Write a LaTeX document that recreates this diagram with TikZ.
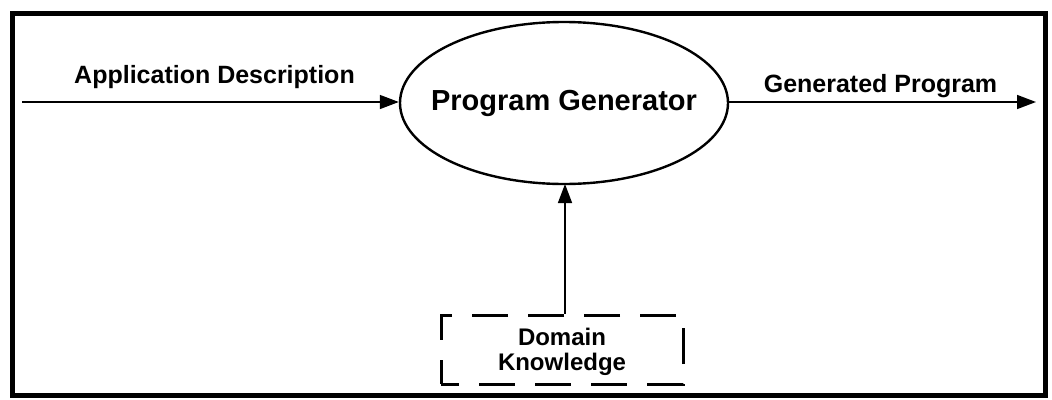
\documentclass[tikz,border=0pt]{standalone}
\usepackage{fontspec}
\setmainfont{Liberation Sans}
\usetikzlibrary{arrows.meta,shapes.geometric}
\begin{document}
\begin{tikzpicture}[x=1pt,y=-1pt,
  lbl/.style={font=\fontsize{25}{28}\selectfont\bfseries, inner sep=0pt, anchor=base},
  conn/.style={line width=1.5pt, -{Triangle[length=19pt,width=14pt]}},
  gen/.style={ellipse, draw, line width=2.4pt, minimum width=328pt, minimum height=162pt, inner sep=0pt,
    font=\fontsize{29}{32}\selectfont\bfseries},
  know/.style={draw, line width=3pt, dash pattern=on 36pt off 20pt, dash phase=18pt,
    minimum width=242pt, minimum height=69pt, inner sep=0pt, align=center,
    font=\fontsize{24}{25}\selectfont\bfseries}]
\useasboundingbox (0,0) rectangle (1052,399);
\draw[line width=5pt] (12,13) rectangle (1045,395);
\node[gen] (pg) at (564,103) {\makebox[0pt]{\raisebox{-1pt}{Program Generator}}};
\node[know, text depth=0pt] (dk) at (562,349.5) {\raisebox{0pt}{Domain}\\Knowledge};
\coordinate (in) at (22,102);
\coordinate (out) at (1036,102);
\draw[conn] (in) -- (pg.west |- in);
\draw[conn] (pg.east |- out) -- (out);
\draw[conn] (dk.north -| 565,0) -- (565,184);
\node[lbl] (ad) at (214.5,83) {Application Description};
\node[lbl] (gp) at (880.5,92) {Generated Program};
\end{tikzpicture}
\end{document}
